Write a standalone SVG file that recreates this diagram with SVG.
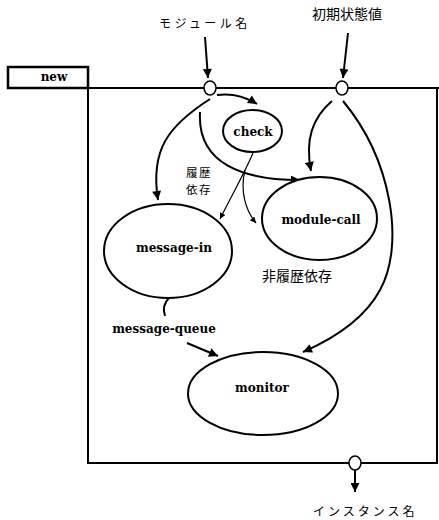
<svg xmlns="http://www.w3.org/2000/svg" width="439" height="520" viewBox="0 0 439 520">
<defs>
<marker id="ah" viewBox="0 0 10 10" refX="10" refY="5" markerWidth="11" markerHeight="9" markerUnits="userSpaceOnUse" orient="auto"><path d="M0,0 L10,5 L0,10 z" fill="#000"/></marker>
<marker id="ahs" viewBox="0 0 10 10" refX="10" refY="5" markerWidth="7" markerHeight="6" markerUnits="userSpaceOnUse" orient="auto"><path d="M0,0 L10,5 L0,10 z" fill="#000"/></marker>
</defs>
<style>
.node{fill:#fff;stroke:#000;stroke-width:2}
.lbl{font-family:"DejaVu Serif","Liberation Serif",serif;font-weight:bold;font-size:12px;text-anchor:middle;fill:#000}
.jp{font-family:"Noto Sans CJK JP","Noto Sans CJK SC",sans-serif;fill:#000}
.e{fill:none;stroke:#000;stroke-width:2;marker-end:url(#ah)}
.t{fill:none;stroke:#000;stroke-width:1.2;marker-end:url(#ahs)}
.port{fill:#fff;stroke:#000;stroke-width:1.5}
</style>
<rect width="439" height="520" fill="#fff"/>
<g id="frame">
<rect x="88" y="88" width="349" height="375" fill="none" stroke="#000" stroke-width="2"/>
<line x1="437" y1="88" x2="439" y2="88" stroke="#000" stroke-width="2"/>
</g>
<g id="new">
<rect x="8" y="67" width="80" height="21" fill="#fff" stroke="#000" stroke-width="2.5"/>
<text class="lbl" x="54" y="81">new</text>
</g>
<g id="connectors">
<path class="e" d="M205,37 L208,78"/>
<path class="e" d="M348,33 L343,78"/>
<path class="e" d="M217,95 Q238,92 257,104"/>
<path class="e" d="M210,99 C168,126 150,150 158,200"/>
<path class="e" d="M200,112 C197,165 245,180 300,180"/>
<path class="e" d="M332,101 C312,118 305,140 311,171"/>
<path class="e" d="M343,101 C392,160 405,245 380,290 C365,318 335,338 303,352"/>
<path class="t" d="M253,153 C245,172 232,195 220,219"/>
<path class="t" d="M245,170 C240,190 245,210 256,223"/>
<path fill="none" stroke="#000" stroke-width="2" d="M169,298 C163,304 163,310 165,316"/>
<path class="e" d="M187,343 L218,356"/>
<path class="e" d="M355,470 L355,492"/>
</g>
<g id="port-module">
<ellipse class="port" cx="210" cy="88" rx="6" ry="7"/>
</g>
<g id="port-init">
<ellipse class="port" cx="342" cy="88" rx="6" ry="7"/>
</g>
<g id="port-instance">
<ellipse class="port" cx="355" cy="463" rx="6" ry="7"/>
</g>
<g id="check">
<ellipse class="node" cx="252.5" cy="131" rx="29.5" ry="21"/>
<text class="lbl" x="253" y="136">check</text>
</g>
<g id="module-call">
<ellipse class="node" cx="319.5" cy="218.5" rx="57.5" ry="41.5"/>
<text class="lbl" x="321" y="224">module-call</text>
</g>
<g id="message-in">
<ellipse class="node" cx="168" cy="251" rx="64" ry="47"/>
<text class="lbl" x="174" y="252">message-in</text>
</g>
<g id="monitor">
<ellipse class="node" cx="263" cy="393.5" rx="75" ry="41.5"/>
<text class="lbl" x="262" y="392">monitor</text>
</g>
<g id="labels">
<text class="jp" x="159" y="28" font-size="12" letter-spacing="3.4">モジュール名</text>
<text class="jp" x="312" y="19" font-size="14">初期状態値</text>
<text class="jp" x="186" y="177" font-size="11.5" letter-spacing="1.5">履歴</text>
<text class="jp" x="186" y="194" font-size="11.5" letter-spacing="1.5">依存</text>
<text class="jp" x="262" y="281" font-size="14">非履歴依存</text>
<text class="lbl" x="164" y="333">message-queue</text>
<text class="jp" x="313" y="516" font-size="12" letter-spacing="3">インスタンス名</text>
</g>
</svg>
